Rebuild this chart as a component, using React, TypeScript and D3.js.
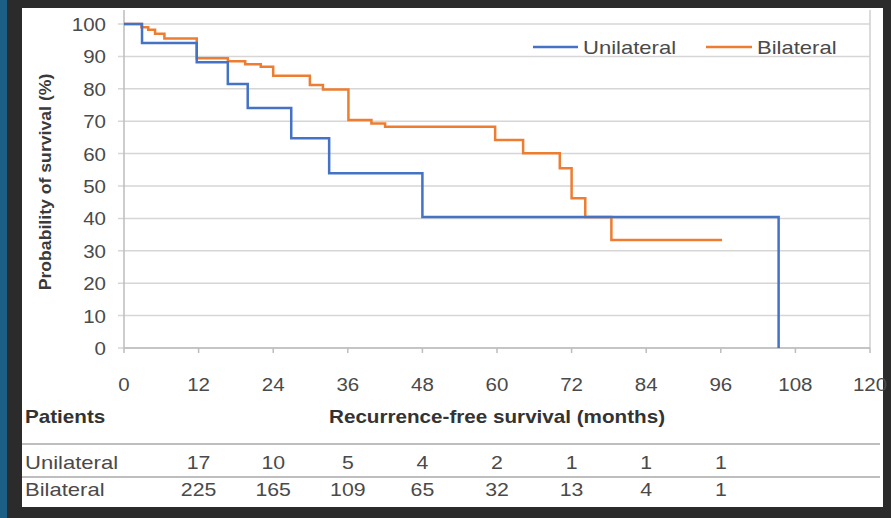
import React from "react";
import * as d3 from "d3";

const uniTime = [0, 2.9, 11.7, 16.7, 19.9, 26.9, 33, 48, 105.3];
const uniSurv = [100, 94.1, 88.2, 81.5, 74.1, 64.7, 53.9, 40.4, 0];

const biTime = [0, 2.8, 3.9, 5.0, 6.5, 11.7, 16.7, 19.5, 22, 24, 29.9, 32, 36.1, 39.8, 42, 59.7, 64.2, 70.1, 72, 74.2, 78.4, 96.2];
const biSurv = [100, 99, 98.2, 97, 95.5, 89.4, 88.5, 87.6, 86.8, 84, 81.2, 79.8, 70.4, 69.3, 68.3, 64.2, 60.1, 55.5, 46.2, 40.4, 33.3, 33.3];

const xTicks = [0, 12, 24, 36, 48, 60, 72, 84, 96, 108, 120];
const yTicks = [0, 10, 20, 30, 40, 50, 60, 70, 80, 90, 100];

const riskMonths = [12, 24, 36, 48, 60, 72, 84, 96];
const uniAtRisk = [17, 10, 5, 4, 2, 1, 1, 1];
const biAtRisk = [225, 165, 109, 65, 32, 13, 4, 1];

const seriesNames = ["Unilateral", "Bilateral"];
const colors = ["#4472C4", "#ED7D31"];

const FONT = "'Liberation Sans', Arial, sans-serif";

type TxtProps = {
  x: number;
  y: number;
  size: number;
  sx: number;
  anchor?: "start" | "middle" | "end";
  weight?: string;
  fill?: string;
  rotate?: number;
  children: React.ReactNode;
};

function Txt({ x, y, size, sx, anchor = "start", weight = "normal", fill = "#4a4a4a", rotate = 0, children }: TxtProps) {
  return (
    <text
      transform={`translate(${x},${y}) rotate(${rotate}) scale(${sx},1)`}
      textAnchor={anchor}
      fontSize={size}
      fontWeight={weight}
      fill={fill}
    >
      {children}
    </text>
  );
}

export default function App() {
  const W = 891, H = 518;
  const x = d3.scaleLinear().domain([0, 120]).range([124, 870]);
  const y = d3.scaleLinear().domain([0, 100]).range([348, 24]);
  const line = d3
    .line<[number, number]>()
    .x((d) => x(d[0]))
    .y((d) => y(d[1]))
    .curve(d3.curveStepAfter);

  const uni: [number, number][] = uniTime.map((t, i) => [t, uniSurv[i]]);
  const bi: [number, number][] = biTime.map((t, i) => [t, biSurv[i]]);

  return (
    <svg
      width={W}
      height={H}
      style={{ position: "absolute", left: 0, top: 0, display: "block" }}
      fontFamily={FONT}
    >
      <rect x={0} y={0} width={W} height={H} fill="#2b2b2b" />
      <rect x={0} y={0} width={7} height={H} fill="#1b5e86" />
      <rect x={22} y={8} width={861} height={499} fill="#ffffff" />

      {/* gridlines */}
      {yTicks.map((t) => (
        <line key={"g" + t} x1={118} x2={870} y1={y(t)} y2={y(t)} stroke="#d6d6d6" strokeWidth={1.5} />
      ))}
      {/* axes */}
      <line x1={x(0)} x2={x(0)} y1={10} y2={y(0)} stroke="#bdbdbd" strokeWidth={1.5} />
      <line x1={x(120)} x2={x(120)} y1={10} y2={y(0)} stroke="#cfcfcf" strokeWidth={1.5} />
      <line x1={x(0)} x2={x(120)} y1={y(0)} y2={y(0)} stroke="#bdbdbd" strokeWidth={1.5} />
      {xTicks.map((t) => (
        <line key={"xt" + t} x1={x(t)} x2={x(t)} y1={y(0)} y2={y(0) + 5} stroke="#bdbdbd" strokeWidth={1.5} />
      ))}

      {/* y tick labels */}
      {yTicks.map((t) => (
        <Txt key={"yl" + t} x={106} y={y(t) + 7} anchor="end" size={19} sx={1.08}>
          {t}
        </Txt>
      ))}
      {/* x tick labels */}
      {xTicks.map((t) => (
        <Txt key={"xl" + t} x={x(t)} y={391} anchor="middle" size={19} sx={1.08}>
          {t}
        </Txt>
      ))}

      {/* y axis title */}
      <Txt x={51} y={182} rotate={-90} anchor="middle" size={16.5} sx={1.07} weight="bold" fill="#3a3a3a">
        Probability of survival (%)
      </Txt>

      {/* series */}
      <path d={line(bi) || ""} fill="none" stroke={colors[1]} strokeWidth={2.5} />
      <path d={line(uni) || ""} fill="none" stroke={colors[0]} strokeWidth={2.5} />

      {/* legend */}
      <line x1={533} x2={578} y1={47} y2={47} stroke={colors[0]} strokeWidth={2.5} />
      <Txt x={583} y={54} size={19} sx={1.16}>{seriesNames[0]}</Txt>
      <line x1={706} x2={752} y1={47} y2={47} stroke={colors[1]} strokeWidth={2.5} />
      <Txt x={757} y={54} size={19} sx={1.16}>{seriesNames[1]}</Txt>

      {/* table */}
      <Txt x={25} y={423} size={17.5} sx={1.18} weight="bold" fill="#333">Patients</Txt>
      <Txt x={497} y={423} size={17.5} sx={1.18} weight="bold" fill="#333" anchor="middle">
        Recurrence-free survival (months)
      </Txt>
      <line x1={22} x2={880} y1={444} y2={444} stroke="#a8a8a8" strokeWidth={1.5} />
      <line x1={22} x2={880} y1={477} y2={477} stroke="#a8a8a8" strokeWidth={1.5} />
      <Txt x={25} y={469} size={19} sx={1.16}>{seriesNames[0]}</Txt>
      <Txt x={25} y={496} size={19} sx={1.16}>{seriesNames[1]}</Txt>
      {riskMonths.map((m, i) => (
        <Txt key={"u" + m} x={x(m)} y={469} anchor="middle" size={19} sx={1.12}>
          {uniAtRisk[i]}
        </Txt>
      ))}
      {riskMonths.map((m, i) => (
        <Txt key={"b" + m} x={x(m)} y={496} anchor="middle" size={19} sx={1.12}>
          {biAtRisk[i]}
        </Txt>
      ))}
    </svg>
  );
}
